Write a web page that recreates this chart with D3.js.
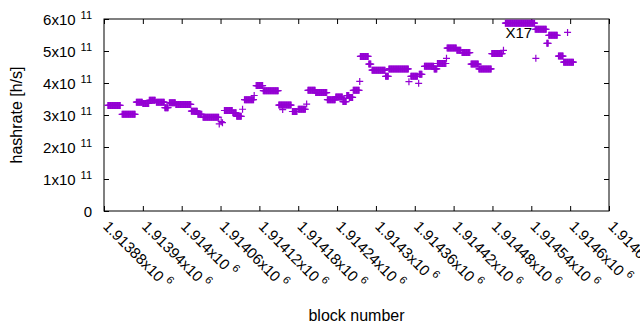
<!DOCTYPE html>
<html>
<head>
<meta charset="utf-8">
<script src="https://cdn.jsdelivr.net/npm/d3@7"></script>
<style>
  body { margin: 0; background: #fff; }
  svg { display: block; }
  text { font-family: "Liberation Sans", Arial, sans-serif; fill: #000; }
</style>
</head>
<body>
<script>
// runs of blocks where the hashrate estimate stays the same
var runFirst = [1913886, 1913908, 1913930, 1913940, 1913950, 1913961, 1913974, 1913981, 1913991, 1914015,
                1914025, 1914033, 1914066, 1914079, 1914085, 1914097, 1914115, 1914126, 1914150, 1914171,
                1914180, 1914195, 1914207, 1914225, 1914238, 1914249, 1914255, 1914259, 1914265, 1914276,
                1914289, 1914294, 1914315, 1914320, 1914354, 1914367, 1914375, 1914390, 1914395, 1914410,
                1914425, 1914433, 1914447, 1914459, 1914479, 1914500, 1914546, 1914564, 1914567, 1914582,
                1914590];
var runLast  = [1913905, 1913928, 1913939, 1913949, 1913959, 1913973, 1913979, 1913990, 1914014, 1914024,
                1914031, 1914057, 1914078, 1914084, 1914092, 1914111, 1914125, 1914149, 1914169, 1914178,
                1914191, 1914206, 1914224, 1914237, 1914248, 1914254, 1914258, 1914264, 1914274, 1914288,
                1914292, 1914314, 1914319, 1914350, 1914364, 1914371, 1914389, 1914394, 1914408, 1914424,
                1914431, 1914445, 1914458, 1914478, 1914495, 1914545, 1914563, 1914566, 1914580, 1914589,
                1914605];
var runRate  = [3.30e11, 3.02e11, 3.40e11, 3.36e11, 3.46e11, 3.40e11, 3.23e11, 3.38e11, 3.33e11, 3.12e11,
                3.02e11, 2.93e11, 3.14e11, 3.07e11, 2.96e11, 3.48e11, 3.92e11, 3.76e11, 3.31e11, 3.11e11,
                3.18e11, 3.77e11, 3.70e11, 3.48e11, 3.56e11, 3.42e11, 3.61e11, 3.55e11, 3.77e11, 4.83e11,
                4.59e11, 4.40e11, 4.21e11, 4.44e11, 4.21e11, 4.27e11, 4.52e11, 4.44e11, 4.61e11, 5.09e11,
                5.02e11, 4.95e11, 4.59e11, 4.44e11, 4.92e11, 5.87e11, 5.68e11, 5.24e11, 5.49e11, 4.84e11,
                4.65e11];

// single blocks that stand apart
var loneBlock = [1914058, 1914061, 1914063, 1914094, 1914112, 1914156, 1914193, 1914275, 1914351, 1914366,
                 1914409, 1914497, 1914547, 1914596];
var loneRate  = [2.72e11, 2.79e11, 2.76e11, 3.18e11, 3.61e11, 3.17e11, 3.34e11, 4.05e11, 4.04e11, 3.99e11,
                 4.77e11, 5.02e11, 4.77e11, 5.58e11];

var xTicks = [1913880, 1913940, 1914000, 1914060, 1914120, 1914180, 1914240,
              1914300, 1914360, 1914420, 1914480, 1914540, 1914600, 1914660];
var xTickText = ['1.91388', '1.91394', '1.914', '1.91406', '1.91412', '1.91418', '1.91424',
                 '1.9143', '1.91436', '1.91442', '1.91448', '1.91454', '1.9146', '1.91466'];
var yTicks = [0, 1e11, 2e11, 3e11, 4e11, 5e11, 6e11];
var yTickText = ['0', '1', '2', '3', '4', '5', '6'];

var points = [];
runFirst.forEach(function (b, i) {
  for (var k = b; k <= runLast[i]; k++) points.push({block: k, rate: runRate[i]});
});
loneBlock.forEach(function (b, i) {
  points.push({block: b, rate: loneRate[i]});
});

var margin = {top: 19, right: 31, bottom: 119, left: 104},
    w = 640 - margin.left - margin.right,
    h = 330 - margin.top - margin.bottom;

var svg = d3.select('body').append('svg')
    .attr('width', 640)
    .attr('height', 330)
  .append('g')
    .attr('transform', 'translate(' + margin.left + ',' + margin.top + ')');

var xScale = d3.scaleLinear()
    .domain([xTicks[0], xTicks[xTicks.length - 1]])
    .range([0, w]);

var yScale = d3.scaleLinear()
    .domain([0, 6e11])
    .range([h, 0]);

// ticks point inward, mirrored on top and right
var yAxis = svg.append('g')
    .call(d3.axisLeft(yScale).tickValues(yTicks).tickSizeInner(-5).tickSizeOuter(0).tickPadding(13));
svg.append('g')
    .attr('transform', 'translate(' + w + ',0)')
    .call(d3.axisRight(yScale).tickValues(yTicks.slice(1, -1)).tickSizeInner(-5).tickSizeOuter(0).tickFormat(''));
var xAxis = svg.append('g')
    .attr('transform', 'translate(0,' + h + ')')
    .call(d3.axisBottom(xScale).tickValues(xTicks).tickSizeInner(-5).tickSizeOuter(0));
svg.append('g')
    .call(d3.axisTop(xScale).tickValues(xTicks).tickSizeInner(-5).tickSizeOuter(0).tickFormat(''));

svg.selectAll('.domain').remove();
svg.selectAll('.tick line').attr('stroke', '#000');

yAxis.selectAll('.tick text')
    .attr('font-size', '15px')
    .attr('x', -12)
    .attr('dy', '0.36em')
    .each(function (d, i) {
      var t = d3.select(this).text(null);
      if (d === 0) { t.text('0'); return; }
      t.append('tspan').text(yTickText[i] + 'x10');
      t.append('tspan').attr('dx', 5).attr('dy', -6).attr('font-size', '11px').text('11');
    });

xAxis.selectAll('.tick text')
    .attr('font-size', '15px')
    .attr('text-anchor', 'start')
    .attr('x', null).attr('y', null).attr('dy', null)
    .attr('transform', 'translate(2,12) rotate(45)')
    .attr('dominant-baseline', 'central')
    .each(function (d, i) {
      var t = d3.select(this).text(null);
      t.append('tspan').text(xTickText[i] + 'x10');
      t.append('tspan').attr('dx', 4).attr('dy', -5).attr('font-size', '11px').text('6');
    });

svg.append('rect')
    .attr('width', w)
    .attr('height', h)
    .attr('fill', 'none')
    .attr('stroke', '#000')
    .attr('stroke-width', 1);

var plus = 'M-3.5,0H3.5M0,-3.5V3.5';
svg.append('g')
  .selectAll('path')
  .data(points)
  .enter()
  .append('path')
  .attr('transform', function (d) {
    return 'translate(' + xScale(d.block) + ',' + yScale(d.rate) + ')';
  })
  .attr('d', plus)
  .attr('stroke', '#9400d3')
  .attr('stroke-width', 1.2)
  .attr('fill', 'none');

svg.append('text')
    .attr('x', xScale(1914500))
    .attr('y', 18.5)
    .attr('font-size', '15px')
    .text('X17');

svg.append('text')
    .attr('transform', 'translate(' + (16 - margin.left) + ',' + (h / 2) + ') rotate(-90)')
    .attr('text-anchor', 'middle')
    .attr('dominant-baseline', 'central')
    .attr('font-size', '16px')
    .text('hashrate [h/s]');

svg.append('text')
    .attr('x', w / 2)
    .attr('y', 330 - margin.top - 9)
    .attr('text-anchor', 'middle')
    .attr('font-size', '16px')
    .text('block number');
</script>
</body>
</html>
